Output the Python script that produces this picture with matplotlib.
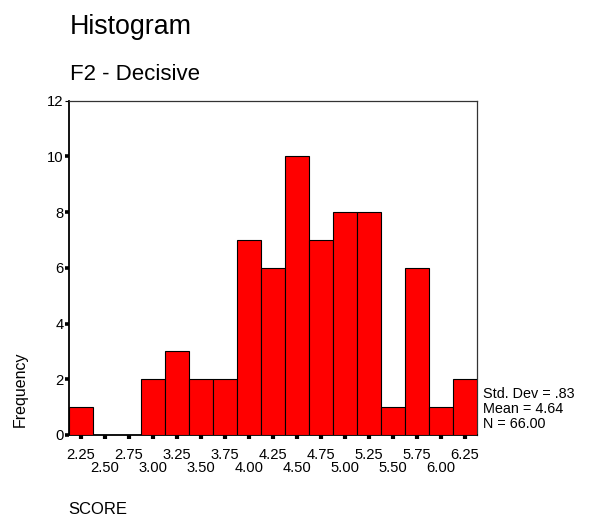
import matplotlib
matplotlib.use("Agg")
import matplotlib.pyplot as plt

plt.rcParams.update({
    'font.family': ['Liberation Sans', 'DejaVu Sans'],
    'font.size': 10.4,
})

# bin centres and counts (SCORE, F2 - Decisive)
centers = [2.25, 2.50, 2.75, 3.00, 3.25, 3.50, 3.75, 4.00, 4.25,
           4.50, 4.75, 5.00, 5.25, 5.50, 5.75, 6.00, 6.25]
counts = [1, 0, 0, 2, 3, 2, 2, 7, 6, 10, 7, 8, 8, 1, 6, 1, 2]
bin_width = 0.25
y_ticks = [0, 2, 4, 6, 8, 10, 12]
stats_lines = ['Std. Dev = .83', 'Mean = 4.64', 'N = 66.00']

W, H = 590, 520
fig = plt.figure(figsize=(W / 100, H / 100), dpi=100)


def fx(px):
    return px / W


def fy(py):
    return 1 - py / H


ax = fig.add_axes([fx(69), fy(435), fx(477) - fx(69), fy(100.5) - fy(435)])

ax.bar(centers, counts, width=bin_width, color='#ff0000',
       edgecolor='black', linewidth=0.8, zorder=3)

ax.set_xlim(centers[0] - bin_width / 2, centers[-1] + bin_width / 2)
ax.set_ylim(0, 12)

# x ticks: two staggered rows of labels
ax.set_xticks(centers[0::2])
ax.set_xticklabels([f'{c:.2f}' for c in centers[0::2]])
ax.set_xticks(centers[1::2], minor=True)
ax.set_xticklabels([f'{c:.2f}' for c in centers[1::2]], minor=True)
ax.tick_params(axis='x', which='major', direction='out', length=3.2,
               width=3.0, pad=6.0, labelsize=10.6)
ax.tick_params(axis='x', which='minor', direction='out', length=3.2,
               width=3.0, pad=15.5, labelsize=10.6)

ax.set_yticks(y_ticks)
ax.tick_params(axis='y', direction='out', length=2.6, width=2.6,
               pad=1.5, labelsize=10.6)
top_tick = ax.yaxis.get_major_ticks()[-1]
top_tick.tick1line.set_markeredgewidth(0.8)

for side in ['left', 'bottom']:
    ax.spines[side].set_color('black')
    ax.spines[side].set_linewidth(1.3)
for side in ['top', 'right']:
    ax.spines[side].set_color('#333333')
    ax.spines[side].set_linewidth(0.9)

# titles and labels
fig.text(fx(70), fy(34), 'Histogram', fontsize=19.3, ha='left', va='baseline')
fig.text(fx(70), fy(80), 'F2 - Decisive', fontsize=16, ha='left', va='baseline')
fig.text(fx(20), fy(389), 'Frequency', fontsize=11.5, rotation=90,
         ha='center', va='center')
fig.text(fx(68), fy(514), 'SCORE', fontsize=12, ha='left', va='baseline')

for i, line in enumerate(stats_lines):
    fig.text(fx(483), fy(398 + 15 * i), line, fontsize=10.4,
             ha='left', va='baseline')

fig.savefig('out.png', dpi=100)
